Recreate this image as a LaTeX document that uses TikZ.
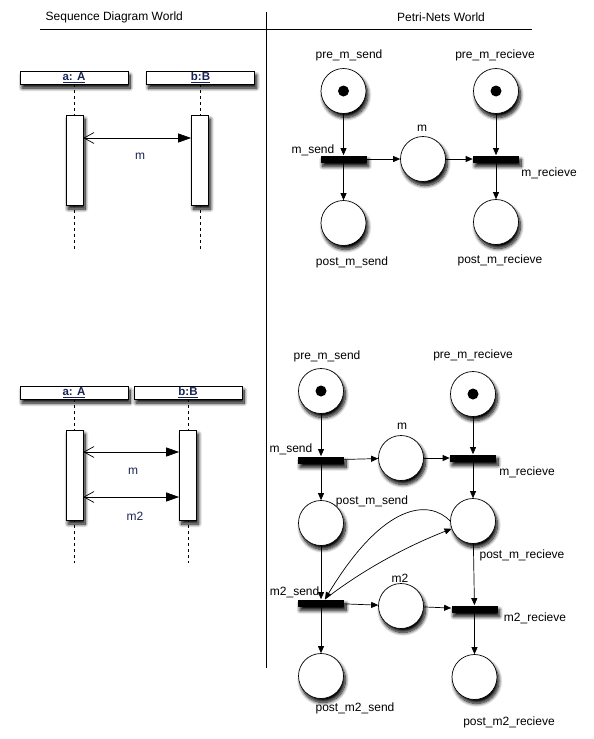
\documentclass[tikz,border=0pt]{standalone}
\usepackage{fontspec}
\setmainfont{Liberation Sans}
\usepackage{xcolor}
\usetikzlibrary{
  positioning,
  shadows.blur,
  arrows.meta
}
\definecolor{msgblue}{RGB}{25,35,85}

\begin{document}
\begin{tikzpicture}[x=1pt,y=-1pt,>={Triangle[length=7pt,width=6pt]},line width=0.7pt,
  font=\fontsize{12}{14}\selectfont,
  shade/.style={blur shadow={shadow xshift=2pt,shadow yshift=-4pt,shadow blur radius=3.5pt,shadow blur steps=10,shadow opacity=100}},
  place/.style={circle,draw,fill=white,minimum size=45pt,inner sep=0pt,shade},
  token/.style={circle,fill=black,minimum size=11pt,inner sep=0pt},
  trans/.style={fill=black,minimum width=46pt,minimum height=7pt,inner sep=0pt,shade},
  obj/.style={draw,fill=white,minimum width=108pt,minimum height=13pt,inner sep=0pt,
    font=\fontsize{11.5}{12}\selectfont\bfseries,text=msgblue,shade},
  act/.style={draw,fill=white,minimum width=17pt,minimum height=90pt,inner sep=0pt,shade},
  life/.style={dashed},
  msg/.style={{Straight Barb[length=10pt,width=11pt]}-{Triangle[length=13pt,width=9pt]}}]
  \useasboundingbox (0,0) rectangle (594,739);
  % headers
  \node[anchor=west] (sdw) at (42,17) {Sequence Diagram World};
  \node (pnw) at (441,17) {Petri-Nets World};
  \draw (40,29) -- (532,29);
  \draw (266,12) -- (266,668);

  % sequence diagram, one message
  \node[obj] (a1) at (74,77.5) {\underline{a: A}};
  \node[obj] (b1) at (200.5,77.5) {\underline{b:B}};
  \coordinate (a1end) at (74,250);
  \coordinate (b1end) at (200,250);
  \draw[life] (a1.south) -- (a1end);
  \draw[life] (b1.south -| b1end) -- (b1end);
  \node[act] (a1act) at (74.5,160) {};
  \node[act] (b1act) at (200,160) {};
  \draw[msg] (a1act.east |- 0,138) -- (b1act.west |- 0,138);
  \node[text=msgblue] (m1msg) at (140,156) {m};

  % sequence diagram, two messages
  \node[obj] (a2) at (74,392.5) {\underline{a: A}};
  \node[obj] (b2) at (188,392.5) {\underline{b:B}};
  \coordinate (a2end) at (74,563);
  \coordinate (b2end) at (188.5,563);
  \draw[life] (a2.south) -- (a2end);
  \draw[life] (b2.south -| b2end) -- (b2end);
  \node[act] (a2act) at (74.5,475) {};
  \node[act] (b2act) at (188,475) {};
  \draw[msg] (a2act.east |- 0,452) -- (b2act.west |- 0,452);
  \draw[msg] (a2act.east |- 0,497) -- (b2act.west |- 0,497);
  \node[text=msgblue] (m2msg) at (133,471) {m};
  \node[text=msgblue] (m22msg) at (135,516) {m2};

  % petri net, one message
  \node[place] (pre1s) at (343.5,91) {};
  \node[token] (tok1s) at (pre1s) {};
  \node (lpre1s) at (349,55) {pre\_m\_send};
  \node[place] (pre1r) at (496,91) {};
  \node[token] (tok1r) at (pre1r) {};
  \node (lpre1r) at (495,55) {pre\_m\_recieve};
  \node[trans] (ms1) at (343.5,159) {};
  \node[anchor=east] (lms1) at (338,150) {m\_send};
  \node[place] (m1) at (423,159) {};
  \node (lm1) at (422,128) {m};
  \node[trans] (mr1) at (496,159) {};
  \node (lmr1) at (549,173) {m\_recieve};
  \node[place] (post1s) at (343.5,223) {};
  \node (lpost1s) at (352,262) {post\_m\_send};
  \node[place] (post1r) at (496,222) {};
  \node (lpost1r) at (500,260) {post\_m\_recieve};
  \draw[->] (pre1s) -- (ms1);
  \draw[->] (ms1) -- (post1s);
  \draw[->] (ms1) -- (m1);
  \draw[->] (m1) -- (mr1);
  \draw[->] (pre1r) -- (mr1);
  \draw[->] (mr1) -- (post1r);

  % petri net, two messages
  \node[place] (pre2s) at (321,391) {};
  \node[token] (tok2s) at (pre2s) {};
  \node (lpre2s) at (327,356) {pre\_m\_send};
  \node[place] (pre2r) at (473,394) {};
  \node[token] (tok2r) at (pre2r) {};
  \node (lpre2r) at (473,355) {pre\_m\_recieve};
  \node[trans] (ms2) at (321,460) {};
  \node[anchor=east] (lms2) at (316,449) {m\_send};
  \node[place] (m2) at (401,458) {};
  \node (lm2) at (402,426) {m};
  \node[trans] (mr2) at (473,458) {};
  \node (lmr2) at (527,472) {m\_recieve};
  \node[place] (post2s) at (321,523) {};
  \node (lpost2s) at (372,501) {post\_m\_send};
  \node[place] (post2r) at (473,521) {};
  \node (lpost2r) at (522,555) {post\_m\_recieve};
  \node[trans] (m2s2) at (321,603) {};
  \node[anchor=east] (lm2s2) at (323,592) {m2\_send};
  \node[place] (m22) at (401,606) {};
  \node (lm22) at (400,578) {m2};
  \node[trans] (m2r2) at (474.5,609) {};
  \node (lm2r2) at (535,618) {m2\_recieve};
  \node[place] (post2s2) at (321,676) {};
  \node (lpost2s2) at (355,708) {post\_m2\_send};
  \node[place] (post2r2) at (474.5,677) {};
  \node (lpost2r2) at (509,722) {post\_m2\_recieve};
  \coordinate (m2s2in) at ([xshift=4pt]m2s2.north);
  \draw[->] (pre2s) -- (ms2);
  \draw[->] (ms2) -- (post2s);
  \draw[->] (ms2) -- (m2);
  \draw[->] (m2) -- (mr2);
  \draw[->] (pre2r) -- (mr2);
  \draw[->] (mr2) -- (post2r);
  \draw[->] (post2s) -- (m2s2);
  \draw[->] (post2r) -- (m2r2);
  \draw[->] (post2r.west) .. controls (430,500) and (385,500) .. (m2s2in);
  \draw[->] (m2s2in) .. controls (365,568) and (410,545) .. (post2r.200);
  \draw[->] (m2s2) -- (m22);
  \draw[->] (m22) -- (m2r2);
  \draw[->] (m2s2) -- (post2s2);
  \draw[->] (m2r2) -- (post2r2);
\end{tikzpicture}
\end{document}
